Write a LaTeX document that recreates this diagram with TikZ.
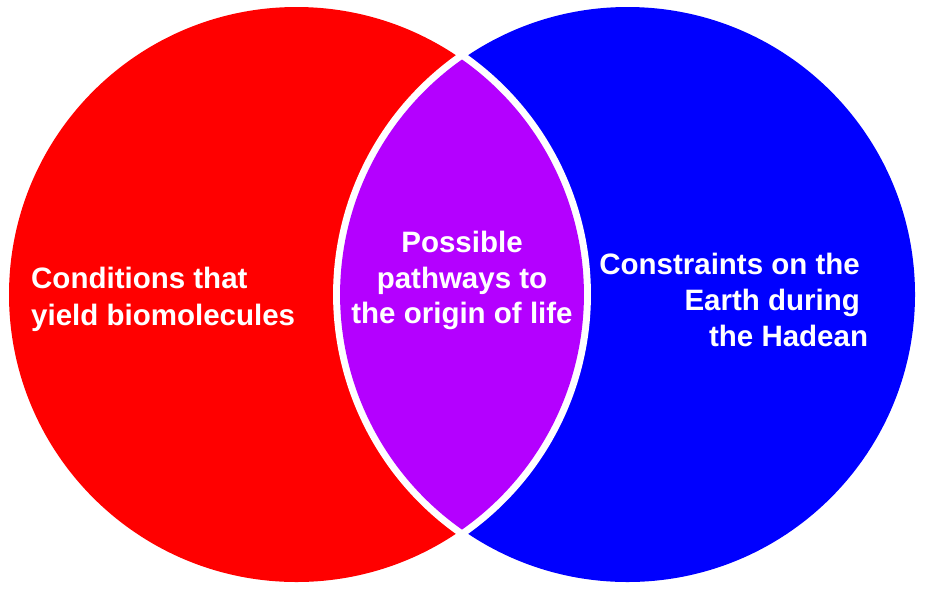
\documentclass[tikz,border=0pt]{standalone}
\usepackage{fontspec}
\setmainfont{Liberation Sans}
\definecolor{setred}{HTML}{FF0000}
\definecolor{setblue}{HTML}{0000FF}
\definecolor{setpurple}{HTML}{B400FF}
\begin{document}
\begin{tikzpicture}[x=1pt,y=-1pt,
  label/.style={text=white,inner sep=0pt,font=\fontsize{29.5}{36}\selectfont\bfseries}]
\useasboundingbox (0,0) rectangle (925,592);
% the two sets
\fill[setred]  (296.5,294.5) circle[radius=287.5];
\fill[setblue] (627.5,294.5) circle[radius=287.5];
% overlap lens with white rim
\coordinate (tiptop) at (462,59.5);
\def\lens{(tiptop) arc[start angle=-54.84,end angle=54.84,radius=287.5]
  arc[start angle=125.16,end angle=234.84,radius=287.5] -- cycle}
\draw[white,line width=14pt,line join=round] \lens;
\fill[setpurple] \lens;
% labels (base anchor sits on the last line)
\node[label,anchor=base west,align=left,
  font=\fontsize{29.5}{37.4}\selectfont\bfseries] (left) at (31,325.7)
  {Conditions that\\yield biomolecules};
\node[label,anchor=base,align=center,
  font=\fontsize{29.5}{35.2}\selectfont\bfseries] (mid) at (462,323.3)
  {Possible\\pathways to\\the origin of life};
\node[label,anchor=base east,align=right] (right) at (868.3,346)
  {Constraints on the\makebox[8.2pt]{}\\Earth during\makebox[8.2pt]{}\\the Hadean};
\end{tikzpicture}
\end{document}
